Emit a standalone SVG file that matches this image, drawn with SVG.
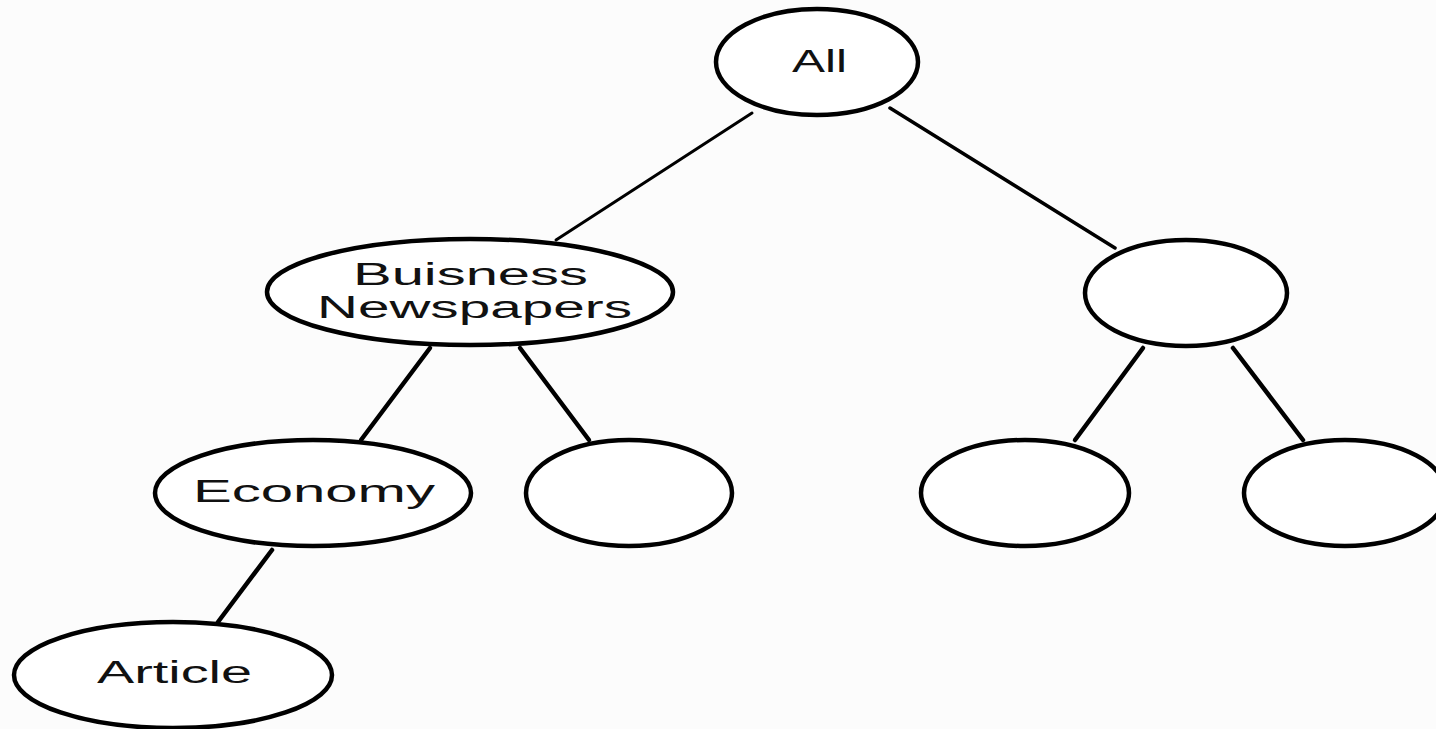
<svg xmlns="http://www.w3.org/2000/svg" width="1436" height="729" viewBox="0 0 1436 729">
<style>
.n{fill:#ffffff;stroke:#000000;stroke-width:4.5}
.t{font-family:"Liberation Sans",Arial,sans-serif;font-size:31px;fill:#111111}
.c{stroke:#000000;stroke-width:4.5;stroke-linecap:round;fill:none}
</style>
<rect width="1436" height="729" fill="#fcfcfc"/>
<g id="connectors">
<line class="c" x1="752" y1="113" x2="556" y2="240" style="stroke-width:3"/>
<line class="c" x1="890" y1="108" x2="1115" y2="248" style="stroke-width:3.5"/>
<line class="c" x1="430" y1="348" x2="361" y2="440"/>
<line class="c" x1="520" y1="348" x2="589" y2="440"/>
<line class="c" x1="1143" y1="348" x2="1075" y2="440"/>
<line class="c" x1="1233" y1="348" x2="1303" y2="440"/>
<line class="c" x1="272" y1="550" x2="218" y2="622"/>
</g>
<g id="node-all">
<ellipse class="n" cx="817" cy="62" rx="101" ry="53"/>
<text class="t" x="792" y="72" textLength="55" lengthAdjust="spacingAndGlyphs">All</text>
</g>
<g id="node-business">
<ellipse class="n" cx="470" cy="292" rx="203" ry="53"/>
<text class="t" x="353" y="285" textLength="235" lengthAdjust="spacingAndGlyphs">Buisness</text>
<text class="t" x="317" y="318" textLength="315" lengthAdjust="spacingAndGlyphs">Newspapers</text>
</g>
<g id="node-right">
<ellipse class="n" cx="1186" cy="293" rx="101" ry="53"/>
</g>
<g id="node-economy">
<ellipse class="n" cx="313" cy="493" rx="158" ry="53"/>
<text class="t" x="193" y="502" textLength="242" lengthAdjust="spacingAndGlyphs">Economy</text>
</g>
<g id="node-empty1">
<ellipse class="n" cx="629" cy="493" rx="103" ry="53"/>
</g>
<g id="node-empty2">
<ellipse class="n" cx="1025" cy="493" rx="104" ry="53"/>
</g>
<g id="node-empty3">
<ellipse class="n" cx="1345" cy="493" rx="101" ry="53"/>
</g>
<g id="node-article">
<ellipse class="n" cx="173" cy="675" rx="159" ry="53"/>
<text class="t" x="97" y="683" textLength="155" lengthAdjust="spacingAndGlyphs">Article</text>
</g>
</svg>
